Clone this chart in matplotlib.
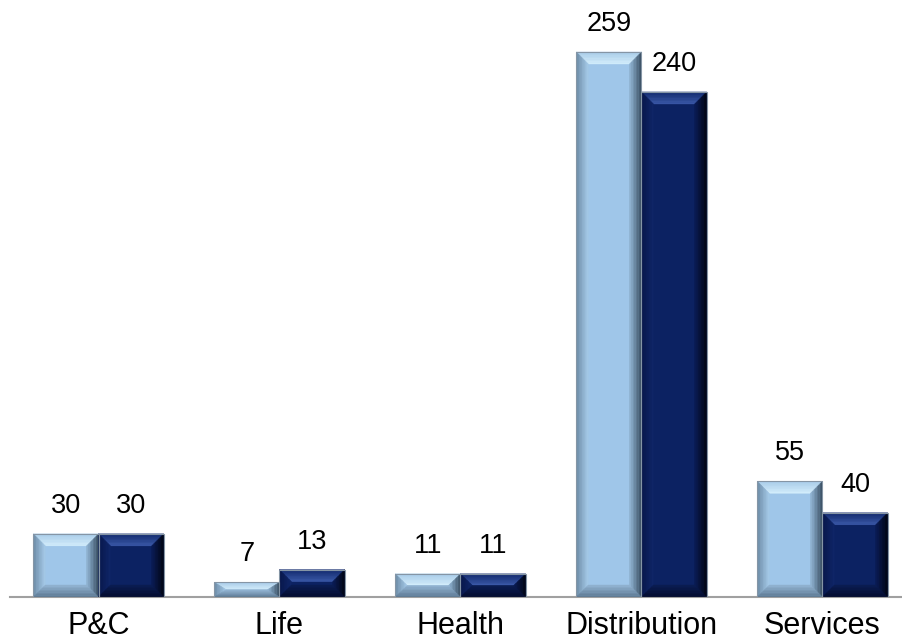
import numpy as np
from matplotlib import pyplot as plt
from matplotlib.patches import Polygon
from matplotlib.colors import to_rgb

plt.rcParams['font.family'] = ['Liberation Sans', 'DejaVu Sans']

categories = ['P&C', 'Life', 'Health', 'Distribution', 'Services']
series_a = [30, 7, 11, 259, 55]
series_b = [30, 13, 11, 240, 40]

# face colour, then (outer, inner) for top, left, right, bottom bevels
light = ('#9fc6e9', {'top': ('#a8cbe8', '#d4eefc'), 'left': ('#6a88a2', '#a6cbea'),
                     'right': ('#34495c', '#93b7d6'), 'bottom': ('#5a7690', '#92b4d2')})
dark = ('#0c2262', {'top': ('#11296c', '#3c5aaa'), 'left': ('#07164a', '#0f2668'),
                    'right': ('#00030f', '#0a1c55'), 'bottom': ('#020a2c', '#0b1d52')})

BEVEL = 12  # pixels
STEPS = 8


def mix(c1, c2, t):
    a, b = np.array(to_rgb(c1)), np.array(to_rgb(c2))
    return tuple(a + (b - a) * t)


def bevel_bars(ax, bars, style):
    sides = style[1]
    fig = ax.figure
    fig.canvas.draw()
    inv = ax.transData.inverted()
    p0 = inv.transform((0, 0))
    p1 = inv.transform((BEVEL, BEVEL))
    bx0, by0 = p1 - p0
    for r in bars:
        x0, y0 = r.get_x(), r.get_y()
        x1, y1 = x0 + r.get_width(), y0 + r.get_height()
        by = min(by0, r.get_height() / 2)
        bx = min(bx0, r.get_width() / 2)
        for k in range(STEPS):
            ta, tb = k / STEPS, (k + 1) / STEPS
            # outer and inner rectangles of this ring
            ax0, ax1, ay0, ay1 = x0 + bx * ta, x1 - bx * ta, y0 + by * ta, y1 - by * ta
            ix0, ix1, iy0, iy1 = x0 + bx * tb, x1 - bx * tb, y0 + by * tb, y1 - by * tb
            t = (k + 0.5) / STEPS
            polys = {
                'top': [(ax0, ay1), (ax1, ay1), (ix1, iy1), (ix0, iy1)],
                'left': [(ax0, ay0), (ix0, iy0), (ix0, iy1), (ax0, ay1)],
                'right': [(ax1, ay0), (ix1, iy0), (ix1, iy1), (ax1, ay1)],
                'bottom': [(ax0, ay0), (ax1, ay0), (ix1, iy0), (ix0, iy0)],
            }
            for side, pts in polys.items():
                c = mix(*sides[side], t)
                ax.add_patch(Polygon(pts, closed=True, facecolor=c, edgecolor=c,
                                     lw=0.3, zorder=3))
        ax.add_patch(plt.Rectangle((x0, y0), x1 - x0, y1 - y0, fill=False,
                                   edgecolor='#8595a5', lw=0.8, zorder=4))


fig = plt.figure(figsize=(9.03, 6.44), dpi=100)
ax = fig.add_axes([10 / 903, 47 / 644, 893 / 903, 597 / 644])

x = np.arange(len(categories))
w = 0.36
bars_a = ax.bar(x - w / 2, series_a, w, color=light[0], zorder=2)
bars_b = ax.bar(x + w / 2, series_b, w, color=dark[0], zorder=2)

ax.set_xlim(-0.489, 4.445)
ax.set_ylim(0, 283.7)

for bars, vals in ((bars_a, series_a), (bars_b, series_b)):
    for r, v in zip(bars, vals):
        ax.annotate(str(v), (r.get_x() + r.get_width() / 2, r.get_height()),
                    xytext=(0, 15), textcoords='offset points',
                    ha='center', va='baseline', fontsize=19.5, color='black')

bevel_bars(ax, bars_a, light)
bevel_bars(ax, bars_b, dark)

ax.set_xticks(x)
ax.set_xticklabels(categories, fontsize=22)
ax.tick_params(axis='x', length=0, pad=10)
ax.set_yticks([])
for s in ['top', 'right', 'left']:
    ax.spines[s].set_visible(False)
ax.spines['bottom'].set_color('#a0a0a0')
ax.spines['bottom'].set_linewidth(1.5)

fig.savefig('out.png', dpi=100)
